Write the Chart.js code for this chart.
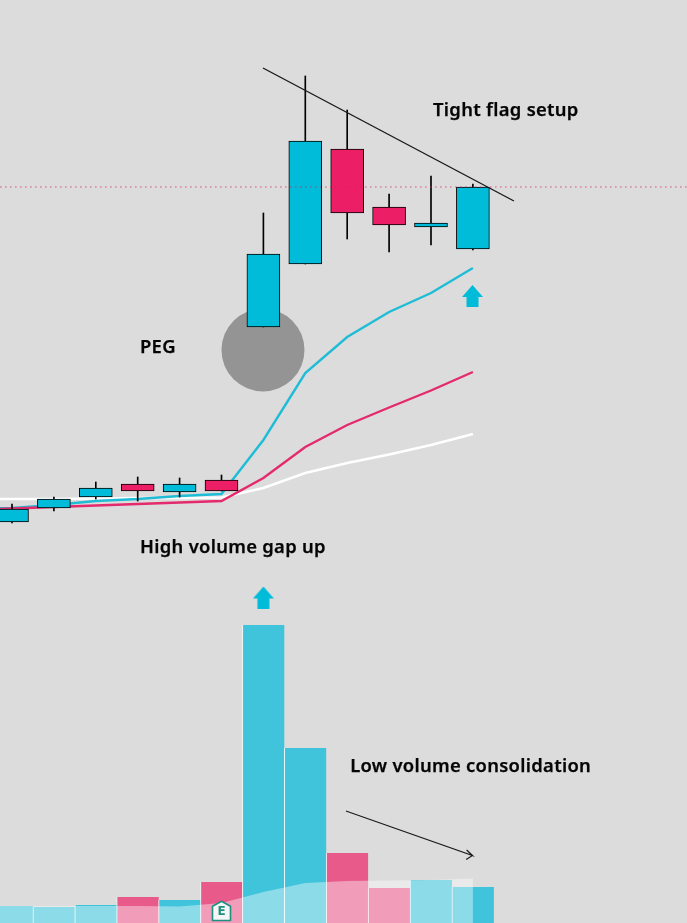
<!DOCTYPE html>
<html>
<head>
<meta charset="utf-8">
<title>Post-earnings gap and tight flag</title>
<style>
  html, body { margin: 0; padding: 0; background: #dcdcdc; }
  #wrap { position: relative; width: 687px; height: 923px; overflow: hidden; }
</style>
<script src="https://cdn.jsdelivr.net/npm/chart.js@4"></script>
</head>
<body>
<div id="wrap"><canvas id="chart" width="687" height="923"></canvas></div>
<script>
// Session numbers for the twelve daily bars
const sessions = [0, 1, 2, 3, 4, 5, 6, 7, 8, 9, 10, 11];

// Daily prices
const opens  = [40.1, 41.5, 42.6, 43.9, 43.1, 44.3, 59.6, 65.9, 77.4, 71.6, 69.6, 67.4];
const closes = [41.4, 42.4, 43.5, 43.2, 43.9, 43.2, 66.9, 78.2, 71.0, 69.8, 70.0, 73.6];
const highs  = [41.9, 42.6, 44.1, 44.6, 44.5, 44.8, 71.0, 84.7, 81.3, 72.9, 74.7, 73.9];
const lows   = [40.0, 41.2, 42.4, 42.2, 42.6, 43.2, 59.6, 65.9, 68.4, 67.1, 67.8, 67.3];

// Daily volume and its moving average
const volumes = [1.7, 1.6, 1.8, 2.6, 2.3, 4.1, 29.8, 17.5, 7.0, 3.5, 4.3, 3.6];
const volumeAverage = [1.7, 1.7, 1.7, 1.7, 1.7, 1.65, 2.0, 3.1, 4.0, 4.2, 4.25, 4.3, 4.45];

// Moving averages start one session before the first visible bar
const averageSessions = [-1, 0, 1, 2, 3, 4, 5, 6, 7, 8, 9, 10, 11];
const fastAverage = [41.4, 41.5, 41.8, 42.2, 42.4, 42.7, 42.9, 48.3, 55.0, 58.6, 61.1, 63.0, 65.5];
const midAverage  = [41.3, 41.45, 41.6, 41.75, 41.9, 42.05, 42.2, 44.5, 47.6, 49.8, 51.55, 53.25, 55.1];
const slowAverage = [42.4, 42.4, 42.4, 42.45, 42.5, 42.5, 42.55, 43.5, 45.0, 46.0, 46.85, 47.8, 48.9];

// Reference level, flag trendline and the falling-volume arrow
const levelPrice = 73.6;
const trendSessions = [5.99, 11.98];
const trendPrices = [85.5, 72.2];
const fadeSessions = [7.97, 10.99, 10.85, 10.99, 10.84];
const fadeLevels = [11.2, 6.75, 7.3, 6.75, 6.35];

// Chart notes
const noteTexts = ["Tight flag setup", "PEG", "High volume gap up", "Low volume consolidation"];
const noteSessions = [10.05, 3.055, 3.055, 8.07];
const notePrices = [80.7, 57.0, 37.0, 15.1];

// Markers
const pegSession = [5.99];
const pegPrice = [57.3];
const arrowSessions = [6.0, 10.99];
const arrowLevels = [32.55, 62.7];
const earningsSession = [5.0];
const earningsLevel = [1.2];

const TEAL = "#00bcd8", RED = "#ec1f66";
const VOL_TEAL = "#40c4db", VOL_RED = "#e85a8a";

function pairs(xs, ys) { return xs.map((x, i) => ({ x, y: ys[i] })); }
const rising = sessions.map(i => closes[i] >= opens[i]);

// Up arrow used as a point image
function upArrow() {
  const c = document.createElement("canvas");
  c.width = 21; c.height = 22;
  const g = c.getContext("2d");
  g.fillStyle = TEAL;
  g.beginPath();
  g.moveTo(10.5, 0); g.lineTo(21, 12); g.lineTo(16.5, 12); g.lineTo(16.5, 22);
  g.lineTo(4.5, 22); g.lineTo(4.5, 12); g.lineTo(0, 12);
  g.closePath(); g.fill();
  return c;
}

// House-shaped earnings badge used as a point image
function earningsBadge() {
  const c = document.createElement("canvas");
  c.width = 21; c.height = 22;
  const g = c.getContext("2d");
  g.fillStyle = "#f4f7f6";
  g.strokeStyle = "#1f8f80";
  g.lineWidth = 1.6;
  g.lineJoin = "round";
  g.beginPath();
  g.moveTo(10.5, 1.2); g.lineTo(19.5, 6.2); g.lineTo(19.5, 20.5);
  g.lineTo(1.5, 20.5); g.lineTo(1.5, 6.2);
  g.closePath(); g.fill(); g.stroke();
  return c;
}

// Writes the notes and the badge letter at their scale positions
const notesPlugin = {
  id: "notes",
  afterDatasetsDraw(chart) {
    const { ctx, scales: { x, y } } = chart;
    ctx.save();
    ctx.textBaseline = "alphabetic";
    ctx.textAlign = "left";
    ctx.fillStyle = "#050505";
    ctx.strokeStyle = "#050505";
    ctx.lineWidth = 0.25;
    ctx.font = "600 18.4px 'Noto Sans'";
    ctx.letterSpacing = "0.3px";
    noteTexts.forEach((t, i) => {
      const px = x.getPixelForValue(noteSessions[i]), py = y.getPixelForValue(notePrices[i]);
      ctx.fillText(t, px, py);
      ctx.strokeText(t, px, py);
    });
    ctx.letterSpacing = "0px";
    ctx.font = "bold 12px 'DejaVu Sans'";
    ctx.textAlign = "center";
    ctx.fillStyle = "#1f8f80";
    ctx.fillText("E", x.getPixelForValue(earningsSession[0]), y.getPixelForValue(earningsLevel[0]) + 4);
    ctx.restore();
  }
};

new Chart(document.getElementById("chart"), {
  type: "bar",
  plugins: [notesPlugin],
  data: {
    datasets: [
      {
        type: "scatter", label: "PEG", order: 90,
        data: pairs(pegSession, pegPrice),
        pointRadius: 41.5, pointBackgroundColor: "#949494", pointBorderWidth: 0
      },
      {
        label: "Volume", order: 80, grouped: false,
        data: pairs(sessions, volumes),
        barThickness: 42,
        backgroundColor: rising.map(u => u ? VOL_TEAL : VOL_RED),
        borderColor: "rgba(238,248,250,0.95)",
        borderWidth: { left: 1, right: 0, top: 0, bottom: 0 },
        borderSkipped: false
      },
      {
        type: "line", label: "Volume average", order: 70,
        data: pairs(averageSessions, volumeAverage),
        borderWidth: 0, pointRadius: 0, tension: 0,
        fill: "origin", backgroundColor: "rgba(255,255,255,0.4)"
      },
      {
        type: "line", label: "Slow average", order: 60,
        data: pairs(averageSessions, slowAverage),
        borderColor: "#ffffff", borderWidth: 2.4, pointRadius: 0, tension: 0
      },
      {
        type: "line", label: "Fast average", order: 59,
        data: pairs(averageSessions, fastAverage),
        borderColor: "#1fbcd6", borderWidth: 2.4, pointRadius: 0, tension: 0
      },
      {
        type: "line", label: "Mid average", order: 58,
        data: pairs(averageSessions, midAverage),
        borderColor: "#e42a6c", borderWidth: 2.4, pointRadius: 0, tension: 0
      },
      {
        label: "Range", order: 50, grouped: false,
        data: sessions.map(i => ({ x: i, y: [lows[i], highs[i]] })),
        barThickness: 1, backgroundColor: "#000000", borderWidth: 0
      },
      {
        label: "Body", order: 40, grouped: false,
        data: sessions.map(i => ({ x: i, y: [opens[i], closes[i]] })),
        barThickness: 33,
        backgroundColor: rising.map(u => u ? TEAL : RED),
        borderColor: "#000000", borderWidth: 1, borderSkipped: false
      },
      {
        type: "line", label: "Level", order: 30,
        data: [{ x: -1, y: levelPrice }, { x: 17, y: levelPrice }],
        borderColor: "rgba(214,30,90,0.75)", borderWidth: 1, borderDash: [1.5, 3.5], pointRadius: 0
      },
      {
        type: "line", label: "Flag trendline", order: 20,
        data: pairs(trendSessions, trendPrices),
        borderColor: "#1a1a1a", borderWidth: 1.4, pointRadius: 0
      },
      {
        type: "line", label: "Volume fade", order: 20,
        data: pairs(fadeSessions, fadeLevels),
        borderColor: "#1a1a1a", borderWidth: 1.2, pointRadius: 0, tension: 0
      },
      {
        type: "scatter", label: "Arrows", order: 10,
        data: pairs(arrowSessions, arrowLevels),
        pointStyle: upArrow()
      },
      {
        type: "scatter", label: "Earnings", order: 10,
        data: pairs(earningsSession, earningsLevel),
        pointStyle: earningsBadge()
      }
    ]
  },
  options: {
    responsive: false,
    animation: false,
    events: [],
    layout: { padding: 0, autoPadding: false },
    plugins: { legend: { display: false }, tooltip: { enabled: false } },
    scales: {
      x: { type: "linear", min: -0.2864, max: 16.11, offset: false, display: false },
      y: { type: "linear", min: 0, max: 92.3, display: false }
    }
  }
});
</script>
</body>
</html>
